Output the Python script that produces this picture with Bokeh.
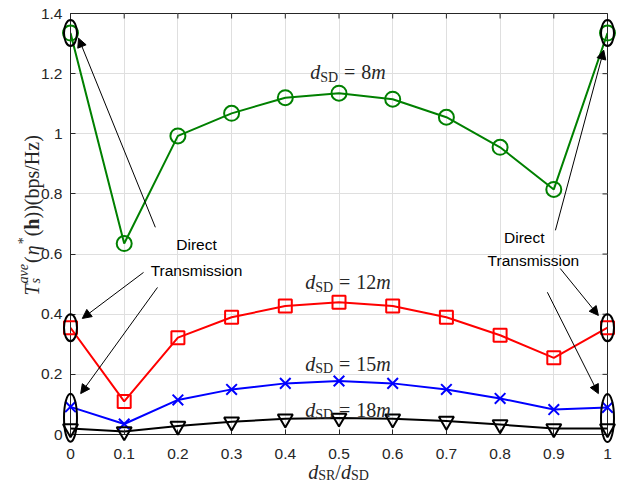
import math
from bokeh.plotting import figure
from bokeh.models import Range1d, FixedTicker, Label, Arrow, NormalHead
from bokeh.core.properties import value
from bokeh.embed import file_html
from bokeh.resources import INLINE

# ---------------- data ----------------
ratio = [0.0, 0.1, 0.2, 0.3, 0.4, 0.5, 0.6, 0.7, 0.8, 0.9, 1.0]
t_8m = [1.335, 0.635, 0.993, 1.068, 1.120, 1.135, 1.115, 1.055, 0.955, 0.815, 1.335]
t_12m = [0.355, 0.110, 0.322, 0.390, 0.427, 0.440, 0.427, 0.390, 0.330, 0.255, 0.355]
t_15m = [0.092, 0.035, 0.115, 0.150, 0.170, 0.178, 0.170, 0.150, 0.120, 0.083, 0.090]
t_18m = [0.020, 0.010, 0.028, 0.042, 0.052, 0.055, 0.052, 0.045, 0.033, 0.020, 0.020]

x_ticks = [0.0, 0.1, 0.2, 0.3, 0.4, 0.5, 0.6, 0.7, 0.8, 0.9, 1.0]
x_tick_labels = ["0", "0.1", "0.2", "0.3", "0.4", "0.5", "0.6", "0.7", "0.8", "0.9", "1"]
y_ticks = [0.0, 0.2, 0.4, 0.6, 0.8, 1.0, 1.2, 1.4]
y_tick_labels = ["0", "0.2", "0.4", "0.6", "0.8", "1", "1.2", "1.4"]

curve_labels = ["8", "12", "15", "18"]
curve_label_y = [1.205, 0.507, 0.236, 0.083]

# ---------------- layout / style ----------------
W, H = 624, 485
FL, FR, FT, FB = 70, 607, 13, 434          # frame edges in canvas px
X0, X1, Y0, Y1 = 0.0, 1.0, 0.0, 1.4
XPX = (FR - FL) / (X1 - X0)                # px per x unit
YPX = (FB - FT) / (Y1 - Y0)                # px per y unit

AX = "#262626"
TICK_FONT = "Liberation Sans"
MATH_FONT = "Liberation Serif"

p = figure(width=W, height=H, output_backend="svg", toolbar_location=None,
           x_range=Range1d(X0, X1), y_range=Range1d(Y0, Y1),
           min_border_left=FL, min_border_right=W - FR, min_border_top=FT, min_border_bottom=H - FB)
p.background_fill_color = "white"
p.border_fill_color = "white"
p.outline_line_color = AX
p.outline_line_width = 1

for ax, ticks, labels in ((p.xaxis[0], x_ticks, x_tick_labels), (p.yaxis[0], y_ticks, y_tick_labels)):
    ax.ticker = FixedTicker(ticks=ticks)
    ax.major_label_overrides = {t: l for t, l in zip(ticks, labels)}
    ax.minor_tick_line_color = None
    ax.major_tick_in = 5
    ax.major_tick_out = 0
    ax.axis_line_color = AX
    ax.major_tick_line_color = AX
    ax.major_label_text_font = TICK_FONT
    ax.major_label_text_font_size = "15.5px"
    ax.major_label_text_color = AX
p.xaxis.major_label_standoff = 14
p.yaxis.major_label_standoff = 8

p.xgrid.ticker = FixedTicker(ticks=x_ticks)
p.ygrid.ticker = FixedTicker(ticks=y_ticks)
p.grid.grid_line_color = "#dfdfdf"
p.grid.grid_line_width = 1

# inward ticks on the top and right edges of the box (half of each dash is clipped)
p.scatter(x=x_ticks, y=[Y1] * len(x_ticks), marker="dash", angle=math.pi / 2, size=10,
          line_color=AX, line_width=1)
p.scatter(x=[X1] * len(y_ticks), y=y_ticks, marker="dash", size=10, line_color=AX, line_width=1)

# ---------------- curves ----------------
series = [
    (t_8m, "#008000", "circle", 15),
    (t_12m, "#ff0000", "square", 13),
    (t_15m, "#0000ff", "x", 15),
    (t_18m, "#000000", "inverted_triangle", 15),
]
for ys, col, mk, sz in series:
    p.line(ratio, ys, line_color=col, line_width=2)
    p.scatter(ratio, ys, marker=mk, size=sz, line_color=col, fill_color=None, line_width=2,
              level="overlay")

# ---------------- ellipses around direct-transmission points ----------------
ell_x = [ratio[0], ratio[0], ratio[0], ratio[-1], ratio[-1], ratio[-1]]
ell_y = [t_8m[0], t_12m[0], (t_15m[0] + t_18m[0]) / 2,
         t_8m[-1], t_12m[-1], (t_15m[-1] + t_18m[-1]) / 2]
ell_w = [13, 13, 13, 13, 13, 13]
ell_h = [26, 27, 48, 26, 27, 48]
p.ellipse(x=ell_x, y=ell_y, width=ell_w, height=ell_h, width_units="screen",
          height_units="screen", fill_color=None, line_color="black", line_width=2,
          level="overlay")

# ---------------- arrows + "Direct Transmission" ----------------
arrows = [
    (0.158, 0.689, 0.015, 1.318),
    (0.136, 0.539, 0.022, 0.386),
    (0.162, 0.489, 0.019, 0.136),
    (0.903, 0.679, 0.993, 1.278),
    (0.912, 0.552, 0.983, 0.396),
    (0.888, 0.473, 0.983, 0.136),
]
for xs, ys, xe, ye in arrows:
    p.add_layout(Arrow(x_start=xs, y_start=ys, x_end=xe, y_end=ye, line_color="black",
                       line_width=1,
                       end=NormalHead(size=9, fill_color="black", line_color="black", line_width=1)))

notes = [("Direct", 0.2346, 0.632), ("Transmission", 0.2346, 0.545),
         ("Direct", 0.845, 0.656), ("Transmission", 0.862, 0.579)]
for txt, nx, ny in notes:
    p.add_layout(Label(x=nx, y=ny, text=txt, text_font=TICK_FONT, text_font_size="15.5px",
                       text_color="black", text_align="center", text_baseline="middle"))


# ---------------- math-like labels built from text pieces ----------------
def put(txt, x, y, size, style="normal", angle=0.0, color=AX):
    p.text(x=[x], y=[y], text=[txt], text_font=value(MATH_FONT), text_font_size=f"{size}px",
           text_font_style=style, text_color=color, text_align="left",
           text_baseline="alphabetic", angle=angle, level="overlay")


def hrow(start_px, base_y, items):
    """items: (text, size, style, advance_px, drop_px). start_px is canvas x."""
    cx = start_px
    for txt, size, style, adv, drop in items:
        put(txt, X0 + (cx - FL) / XPX, base_y - drop / YPX, size, style)
        cx += adv


F, FS = 20, 14
for num, ly in zip(curve_labels, curve_label_y):
    items = [
        ("d", F, "italic", 0.5 * F, 0),
        ("SD", FS, "normal", 1.278 * FS + 6, 5),
        ("=", F, "normal", 0.564 * F + 6, 0),
        (num, F, "normal", 0.5 * F * len(num), 0),
        ("m", F, "italic", 0.722 * F, 0),
    ]
    total = sum(it[3] for it in items)
    center_px = FL + (0.5 - X0) * XPX + 9
    hrow(center_px - total / 2, ly, items)

# x axis label  d_SR / d_SD
xl_items = [
    ("d", F, "italic", 0.5 * F, 0),
    ("SR", FS, "normal", 1.223 * FS, 4),
    ("/", F, "normal", 0.278 * F, 0),
    ("d", F, "italic", 0.5 * F, 0),
    ("SD", FS, "normal", 1.278 * FS, 4),
]
xl_total = sum(it[3] for it in xl_items)
hrow(338 - xl_total / 2, Y0 - (471 - FB) / YPX, xl_items)

# y axis label  T_s^ave(eta*(h))(bps/Hz), rotated, reading upwards
yl_items = [  # (text, size, style, advance_px, raise_px)
    ("T", F, "italic", 0.556 * F + 1, 0),
    ("ave", FS, "italic", 1.388 * FS + 1, 8),
    ("(", F, "normal", 0.333 * F + 1, 0),
    ("\u03b7", F, "italic", 0.5 * F + 1, 0),
    ("*", FS, "normal", 0.5 * FS + 1, 8),
    ("(", F, "normal", 0.333 * F, 0),
    ("h", F, "bold", 0.556 * F, 0),
    ("))(bps/Hz)", F, "normal", 4.165 * F, 0),
]
base_px = 31          # canvas x of the label's baseline
cy = 295              # canvas y where the label starts (bottom)
for txt, size, style, adv, rise in yl_items:
    put(txt, X0 + (base_px - rise - FL) / XPX, Y0 + (FB - cy) / YPX, size, style, angle=math.pi / 2)
    if txt == "ave":
        put("s", X0 + (base_px + 4 - FL) / XPX, Y0 + (FB - cy) / YPX, FS, "italic", angle=math.pi / 2)
    cy -= adv

open("out.html", "w").write(file_html(p, INLINE))
